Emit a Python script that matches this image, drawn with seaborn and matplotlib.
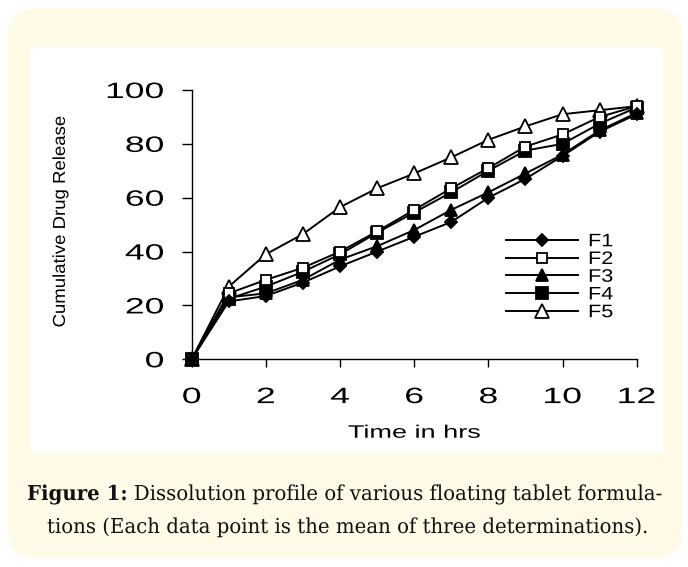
import matplotlib
matplotlib.use("Agg")
import matplotlib.pyplot as plt
import seaborn as sns
from matplotlib.patches import FancyBboxPatch, Rectangle
from matplotlib.patheffects import AbstractPathEffect
from matplotlib.transforms import Affine2D

# ---------------- data ----------------
time_hrs = [0, 1, 2, 3, 4, 5, 6, 7, 8, 9, 10, 11, 12]
F1 = [0, 21.5, 23.5, 28.5, 34.5, 40.0, 45.5, 51.0, 60.0, 67.0, 75.5, 84.5, 91.0]
F2 = [0, 24.5, 29.5, 34.0, 40.0, 47.5, 55.5, 63.5, 71.0, 79.0, 83.5, 90.0, 94.0]
F3 = [0, 23.0, 24.5, 29.5, 37.0, 42.0, 48.0, 55.5, 62.0, 69.0, 76.0, 85.0, 91.5]
F4 = [0, 22.5, 27.0, 32.5, 39.0, 47.0, 54.5, 62.0, 70.0, 77.5, 80.0, 87.5, 93.5]
F5 = [0, 27.0, 39.0, 46.5, 56.5, 63.5, 69.0, 75.0, 81.5, 86.5, 91.0, 92.5, 94.0]
series_names = ["F1", "F2", "F3", "F4", "F5"]
series_values = [F1, F2, F3, F4, F5]
x_ticks = [0, 2, 4, 6, 8, 10, 12]
y_ticks = [0, 20, 40, 60, 80, 100]
x_label = "Time in hrs"
y_label = "Cumulative Drug Release"
caption_bold = "Figure 1:"
caption_line1 = " Dissolution profile of various floating tablet formula-"
caption_line2 = "tions (Each data point is the mean of three determinations)."

# marker styles: (marker, facecolor, size)
styles = {
    "F1": ("D", "black", 6.5),
    "F2": ("s", "white", 7.5),
    "F3": ("^", "black", 8.5),
    "F4": ("s", "black", 8),
    "F5": ("^", "white", 9.5),
}


class Stretch(AbstractPathEffect):
    """Horizontally stretch text glyphs (in text direction)."""
    def __init__(self, sx, anchor="center"):
        super().__init__()
        self.sx = sx
        self.anchor = anchor

    def draw_path(self, renderer, gc, tpath, affine, rgbFace=None):
        ext = tpath.get_extents()
        if self.anchor == "center":
            cx = (ext.x0 + ext.x1) / 2
        elif self.anchor == "right":
            cx = ext.x1
        else:
            cx = 0.0
        t = Affine2D().translate(-cx, 0).scale(self.sx, 1).translate(cx, 0)
        renderer.draw_path(gc, tpath, t + affine, rgbFace)


W, H = 688, 567
fig = plt.figure(figsize=(W / 100, H / 100), dpi=100)
fig.patch.set_facecolor("white")
plt.rcParams["font.family"] = ["Liberation Sans", "DejaVu Sans"]

# cream rounded card and white chart panel (in inches)
card = FancyBboxPatch((0.08, 0.09), 6.75, 5.50,
                      boxstyle="round,pad=0,rounding_size=0.28",
                      transform=fig.dpi_scale_trans, facecolor="#fffbe8",
                      edgecolor="none", zorder=-3)
fig.patches.append(card)
panel = Rectangle((0.31, 1.14), 6.32, 4.06, transform=fig.dpi_scale_trans,
                  facecolor="white", edgecolor="none", zorder=-2)
fig.patches.append(panel)

ax = fig.add_axes([191.7 / W, 1 - 359.3 / H, 445.0 / W, 269.3 / H])
ax.set_facecolor("none")
ax.set_zorder(1)

# draw last series first so F1 ends on top (as in the reference)
for name, vals in reversed(list(zip(series_names, series_values))):
    mk, fc, ms = styles[name]
    sns.lineplot(x=time_hrs, y=vals, ax=ax, color="black", lw=1.4,
                 marker=mk, markersize=ms, markerfacecolor=fc,
                 markeredgecolor="black", markeredgewidth=1.3,
                 label=name, clip_on=False, errorbar=None)

ax.set_xlim(0, 12)
ax.set_ylim(0, 100)
ax.set_xticks(x_ticks)
ax.set_yticks(y_ticks)
for s in ["top", "right"]:
    ax.spines[s].set_visible(False)
for s in ["left", "bottom"]:
    ax.spines[s].set_linewidth(1.0)
    ax.spines[s].set_color("black")
ax.tick_params(axis="x", direction="out", length=6, width=1, pad=14,
               labelsize=16, colors="black")
ax.tick_params(axis="y", direction="out", length=7.5, width=1, pad=12.5,
               labelsize=16, colors="black")
for lbl in ax.get_xticklabels():
    lbl.set_path_effects([Stretch(1.6, "center")])
for lbl in ax.get_yticklabels():
    lbl.set_path_effects([Stretch(1.6, "right")])

ax.set_xlabel(x_label, fontsize=13, labelpad=12)
ax.xaxis.label.set_path_effects([Stretch(1.5, "center")])
ax.set_ylabel(y_label, fontsize=12.5, va="center")
ax.yaxis.set_label_coords(-0.295, 0.512)
ax.yaxis.label.set_path_effects([Stretch(1.07, "center")])

handles, labels = ax.get_legend_handles_labels()
order = sorted(range(len(labels)), key=lambda i: labels[i])
leg = ax.legend([handles[i] for i in order], [labels[i] for i in order],
                loc="upper left", bbox_to_anchor=(0.706, 0.468),
                frameon=False, fontsize=13, handlelength=4.0,
                handletextpad=0.55, labelspacing=0.04, borderpad=0,
                borderaxespad=0)
for t in leg.get_texts():
    t.set_path_effects([Stretch(1.2, "origin")])

# caption
renderer = fig.canvas.get_renderer()
cap_kw = dict(family=["DejaVu Serif", "Liberation Serif"], fontsize=14.8,
              color="#111111", va="baseline")
tb = fig.text(0, 0, caption_bold, weight="bold", ha="left", **cap_kw)
tr = fig.text(0, 0, caption_line1, ha="left", **cap_kw)
wb = tb.get_window_extent(renderer).width
wr = tr.get_window_extent(renderer).width
sx = 635.0 / (wb + wr)
left = 344.5 - (wb + wr) * sx / 2
y1 = 1 - 500 / H
tb.set_position((left / W, y1))
tr.set_position(((left + wb * sx) / W, y1))
tb.set_path_effects([Stretch(sx, "origin")])
tr.set_path_effects([Stretch(sx, "origin")])
t2 = fig.text(347.5 / W, 1 - 533 / H, caption_line2, ha="center", **cap_kw)
t2.set_path_effects([Stretch(sx, "center")])

fig.savefig("out.png", dpi=100, facecolor=fig.get_facecolor())
